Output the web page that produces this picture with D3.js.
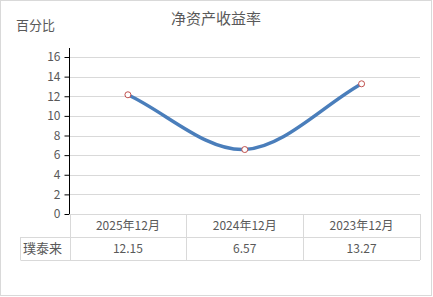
<!DOCTYPE html>
<html>
<head>
<meta charset="utf-8">
<script src="https://cdn.jsdelivr.net/npm/d3@7"></script>
<style>
  body { margin: 0; background: #fff; }
  svg text { font-family: "Microsoft YaHei", "Noto Sans CJK SC", sans-serif; fill: #595959; }
</style>
</head>
<body>
<svg id="chart" width="433" height="297"></svg>
<script>
// chart data
var categories = ["2025年12月", "2024年12月", "2023年12月"];
var seriesName = "璞泰来";
var values = [12.15, 6.57, 13.27];
var yTicks = [0, 2, 4, 6, 8, 10, 12, 14, 16];

var svg = d3.select("#chart");
var margin = {top: 48, left: 69.5, right: 420, bottom: 214};

// excel-like smooth line: interior tangents from neighbours, end tangents along the chord
function excelSmooth(context) {
    var pts = [];
    return {
        lineStart: function() { pts = []; },
        point: function(x, y) { pts.push([x, y]); },
        lineEnd: function() {
            var n = pts.length;
            if (!n) return;
            context.moveTo(pts[0][0], pts[0][1]);
            var tan = pts.map(function(p, i) {
                if (n < 2) return [0, 0];
                if (i === 0) return [pts[1][0] - p[0], pts[1][1] - p[1]];
                if (i === n - 1) return [p[0] - pts[i - 1][0], p[1] - pts[i - 1][1]];
                return [(pts[i + 1][0] - pts[i - 1][0]) / 2, (pts[i + 1][1] - pts[i - 1][1]) / 2];
            });
            for (var i = 1; i < n; i++) {
                var a = pts[i - 1], b = pts[i];
                context.bezierCurveTo(a[0] + tan[i - 1][0] / 3, a[1] + tan[i - 1][1] / 3,
                    b[0] - tan[i][0] / 3, b[1] - tan[i][1] / 3, b[0], b[1]);
            }
        },
        areaStart: function() {}, areaEnd: function() {}
    };
}

// outer frame
svg.append("rect")
    .attr("x", 0.5).attr("y", 0.5)
    .attr("width", 431).attr("height", 295)
    .attr("fill", "#fff")
    .attr("stroke", "#d9d9d9");

var x = d3.scaleBand().domain(categories).range([margin.left, margin.right]);
var y = d3.scaleLinear().domain([0, 16]).range([margin.bottom, 57]);

// gridlines
svg.append("g").selectAll("line")
    .data(yTicks.filter(function(d) { return d > 0; }))
    .enter().append("line")
    .attr("x1", margin.left).attr("x2", margin.right)
    .attr("y1", function(d) { return Math.round(y(d)) + 0.5; })
    .attr("y2", function(d) { return Math.round(y(d)) + 0.5; })
    .attr("stroke", "#d9d9d9");

// y axis
var yAxis = svg.append("g")
    .attr("transform", "translate(" + margin.left + ",0)")
    .call(d3.axisLeft(y).tickValues(yTicks).tickSize(5).tickPadding(4));
yAxis.select(".domain").remove();
yAxis.selectAll(".tick line").attr("stroke", "#000");
yAxis.selectAll(".tick text").style("font-size", "12px").attr("fill", "#595959");
svg.append("line")
    .attr("x1", margin.left).attr("x2", margin.left)
    .attr("y1", margin.top).attr("y2", margin.bottom)
    .attr("stroke", "#000");

// table below
var rowH = 23;
var tableTop = margin.bottom;
var tbl = svg.append("g").attr("stroke", "#d9d9d9").attr("fill", "none");
tbl.append("line").attr("x1", margin.left).attr("x2", margin.right)
    .attr("y1", tableTop + 0.5).attr("y2", tableTop + 0.5);
tbl.append("line").attr("x1", 20.5).attr("x2", margin.right)
    .attr("y1", tableTop + rowH + 0.5).attr("y2", tableTop + rowH + 0.5);
tbl.append("line").attr("x1", 20.5).attr("x2", margin.right)
    .attr("y1", tableTop + 2 * rowH + 0.5).attr("y2", tableTop + 2 * rowH + 0.5);
tbl.append("line").attr("x1", 20.5).attr("x2", 20.5)
    .attr("y1", tableTop + rowH).attr("y2", tableTop + 2 * rowH);
var bounds = [margin.left].concat(categories.map(function(c) { return x(c) + x.bandwidth(); }));
tbl.selectAll(".vb").data(bounds).enter().append("line")
    .attr("x1", function(d) { return Math.round(d) + 0.5; })
    .attr("x2", function(d) { return Math.round(d) + 0.5; })
    .attr("y1", tableTop).attr("y2", tableTop + 2 * rowH);

svg.append("g").selectAll("text")
    .data(categories).enter().append("text")
    .attr("x", function(d) { return x(d) + x.bandwidth() / 2; })
    .attr("y", tableTop + 16)
    .attr("text-anchor", "middle")
    .style("font-size", "12px")
    .text(function(d) { return d; });

svg.append("g").selectAll("text")
    .data(values).enter().append("text")
    .attr("x", function(d, i) { return x(categories[i]) + x.bandwidth() / 2; })
    .attr("y", tableTop + rowH + 16)
    .attr("text-anchor", "middle")
    .style("font-size", "12px")
    .text(function(d) { return d; });

svg.append("text")
    .attr("x", 23).attr("y", tableTop + rowH + 16)
    .style("font-size", "13px")
    .text(seriesName);

// line
var line = d3.line()
    .curve(excelSmooth)
    .x(function(d, i) { return x(categories[i]) + x.bandwidth() / 2; })
    .y(function(d) { return y(d); });

svg.append("path")
    .datum(values)
    .attr("d", line)
    .attr("fill", "none")
    .attr("stroke", "#4a7ebb")
    .attr("stroke-width", 3.5)
    .attr("stroke-linecap", "round");

svg.append("g").selectAll("circle")
    .data(values).enter().append("circle")
    .attr("cx", function(d, i) { return x(categories[i]) + x.bandwidth() / 2; })
    .attr("cy", function(d) { return y(d); })
    .attr("r", 3)
    .attr("fill", "#fff")
    .attr("stroke", "#c0504d")
    .attr("stroke-width", 1);

// titles
svg.append("text")
    .attr("x", 216).attr("y", 24)
    .attr("text-anchor", "middle")
    .style("font-size", "15px")
    .text("净资产收益率");

svg.append("text")
    .attr("x", 16).attr("y", 30)
    .style("font-size", "13px")
    .text("百分比");
</script>
</body>
</html>
